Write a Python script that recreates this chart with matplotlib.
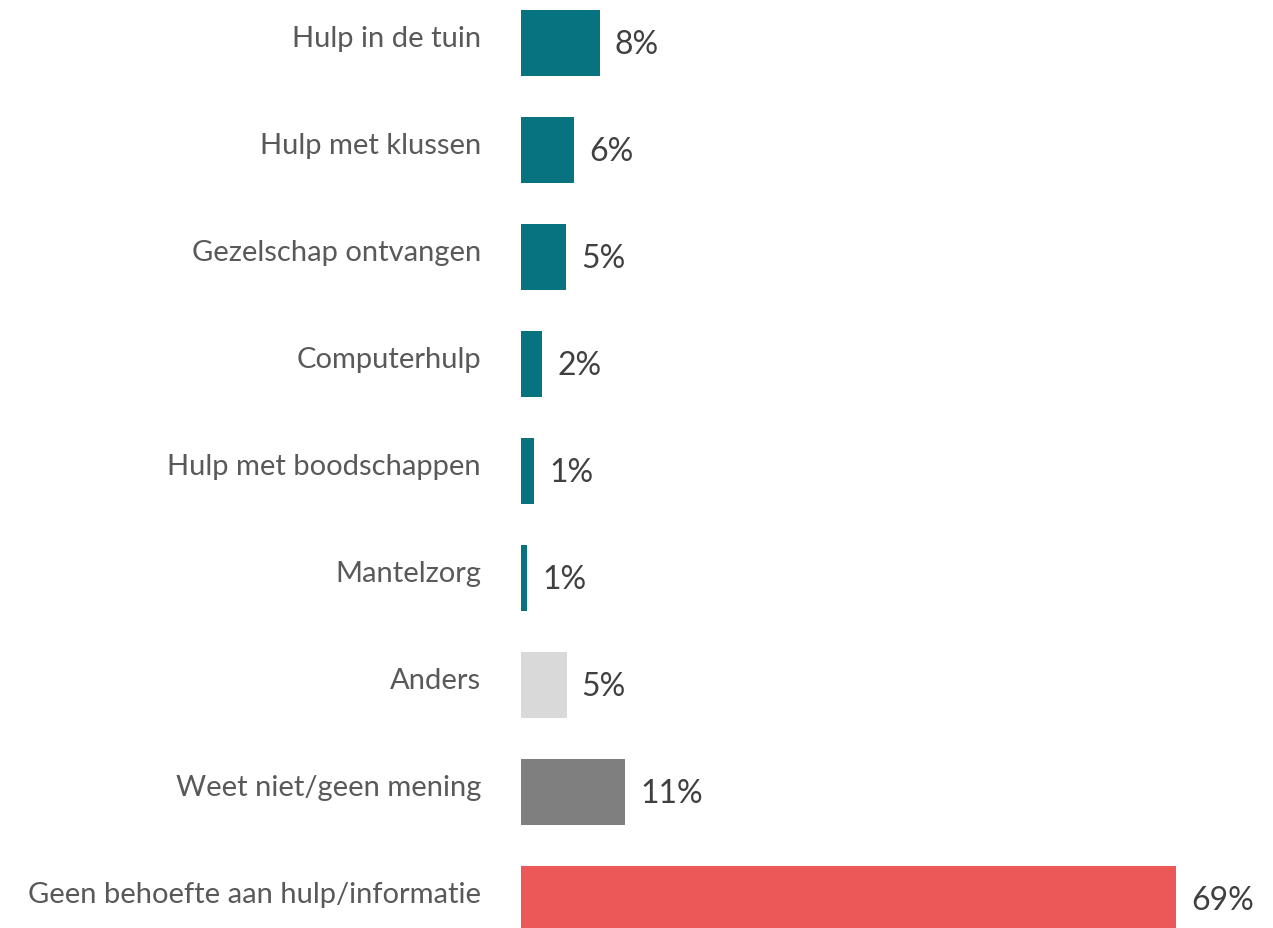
import matplotlib.pyplot as plt

# Data
categorieen = ["Hulp in de tuin", "Hulp met klussen", "Gezelschap ontvangen",
               "Computerhulp", "Hulp met boodschappen", "Mantelzorg",
               "Anders", "Weet niet/geen mening",
               "Geen behoefte aan hulp/informatie"]
waarden = [8.3, 5.6, 4.7, 2.2, 1.4, 0.6, 4.8, 11.0, 69.0]
labels = ["8%", "6%", "5%", "2%", "1%", "1%", "5%", "11%", "69%"]
kleuren = ["#077380"] * 6 + ["#D9D9D9", "#7F7F7F", "#EC5858"]

fig = plt.figure(figsize=(12.73, 9.29), dpi=100)
ax = fig.add_axes([521 / 1273, 0, 752 / 1273, 1])

pos = list(range(len(categorieen)))
ax.barh(pos, waarden, height=0.62, color=kleuren)
ax.set_xlim(0, 752 / 9.49)
ax.set_ylim(8.27, -0.41)

for p, w, lab in zip(pos, waarden, labels):
    ax.text(w + 1.6, p + 0.01, lab, va="center", ha="left",
            fontsize=23, color="#404040", family="Lato")
    ax.text(-40 / 9.49, p - 0.05, categorieen[p], va="center", ha="right",
            fontsize=21, color="#595959", family="Lato")

ax.axis("off")
fig.savefig("out.png", dpi=100)
